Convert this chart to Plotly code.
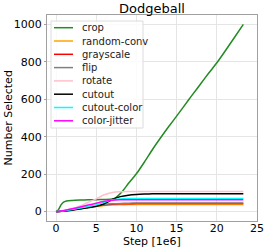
import plotly.graph_objects as go

# ---------------- data ----------------
names = ["crop", "random-conv", "grayscale", "flip", "rotate", "cutout", "cutout-color", "color-jitter"]
colors = ["#228B22", "#FFA500", "#FF0000", "#808080", "#FFC0CB", "#000000", "#00FFFF", "#FF00FF"]

crop_x = [0, 0.3, 0.6, 0.9, 1.3, 2, 3, 4, 5, 6, 6.8, 7.3, 7.8, 8.4, 9, 10, 11, 12, 13.1, 14, 15, 16.55, 17, 18, 19, 20.1, 21, 22, 23.3]
crop_y = [0, 10, 35, 50, 57, 60, 62, 63, 64, 65, 66, 70, 88, 116, 150, 202, 265, 332, 400, 453, 510, 600, 626, 683, 740, 800, 855, 918, 1000]

steps = [0, 1, 2, 3, 4, 5, 6, 7, 8, 9, 10, 11, 12, 14, 16, 18, 20, 22, 23.3]
random_conv_y = [0, 4, 10, 16, 22, 28, 33, 36, 37, 37.5, 38, 38, 38, 38, 38, 38, 38, 38, 38]
grayscale_y = [0, 4, 10, 17, 24, 30, 36, 40, 42, 42.5, 43, 43, 43, 43, 43, 43, 43, 43, 43]
flip_y = [0, 4, 11, 18, 25, 32, 38, 42, 44, 45, 46, 46, 46, 46, 46, 46, 46, 46, 46]
rotate_y = [0, 5, 15, 30, 50, 68, 90, 102, 106, 107, 107, 107, 107, 107, 107, 107, 107, 107, 107]
cutout_y = [0, 3, 8, 14, 21, 29, 42, 65, 80, 88, 92, 94, 95, 96, 96, 96, 96, 96, 96]
cutout_color_y = [0, 5, 12, 20, 28, 36, 50, 63, 68, 70, 70, 70, 70, 70, 70, 70, 70, 70, 70]
color_jitter_y = [0, 6, 15, 25, 35, 45, 55, 61, 63, 64, 64, 64, 64, 64, 64, 64, 64, 64, 64]

series_x = [crop_x] + [steps] * 7
series_y = [crop_y, random_conv_y, grayscale_y, flip_y, rotate_y, cutout_y, cutout_color_y, color_jitter_y]

title = "Dodgeball"
x_label = "Step [1e6]"
y_label = "Number Selected"

# ---------------- figure ----------------
W, H = 266, 249
L, R, T, B = 47, 9, 15, 28
FONT = "DejaVu Sans"

fig = go.Figure()
for n, c, xs, ys in zip(names, colors, series_x, series_y):
    fig.add_trace(go.Scatter(x=xs, y=ys, mode="lines", name=n,
                             line=dict(color=c, width=1.5, shape="spline", smoothing=0.6),
                             showlegend=False))

pw, ph = W - L - R, H - T - B
def px2x(px):
    return (px - L) / pw
def px2y(py):
    return (H - B - py) / ph

# custom matplotlib-like legend
shapes = [dict(type="rect", xref="paper", yref="paper",
               x0=px2x(51), x1=px2x(143), y0=px2y(128), y1=px2y(21),
               fillcolor="rgba(255,255,255,0.85)", line=dict(color="#dcdcdc", width=1), layer="above")]
annotations = []
for i, (n, c) in enumerate(zip(names, colors)):
    yy = px2y(27.7 + i * 13.3)
    shapes.append(dict(type="line", xref="paper", yref="paper",
                       x0=px2x(54), x1=px2x(73), y0=yy, y1=yy,
                       line=dict(color=c, width=1.5), layer="above"))
    annotations.append(dict(text=n, xref="paper", yref="paper", x=px2x(80), y=yy,
                            xanchor="left", yanchor="middle", showarrow=False,
                            font=dict(family=FONT, size=10, color="#222")))

# axis titles as annotations (placed like matplotlib)
annotations.append(dict(text=x_label, xref="paper", yref="paper", x=0.5, y=px2y(241.5),
                        xanchor="center", yanchor="middle", showarrow=False,
                        font=dict(family=FONT, size=11, color="black")))
annotations.append(dict(text=y_label, xref="paper", yref="paper", x=px2x(7.5), y=0.5,
                        xanchor="center", yanchor="middle", textangle=-90, showarrow=False,
                        font=dict(family=FONT, size=11, color="black")))

fig.update_layout(
    width=W, height=H,
    margin=dict(l=L, r=R, t=T, b=B, autoexpand=False),
    paper_bgcolor="white", plot_bgcolor="white",
    font=dict(family=FONT, size=11, color="black"),
    title=dict(text=title, x=(L + pw / 2) / W, xanchor="center", xref="container",
               y=1 - 8 / H, yanchor="middle", yref="container",
               font=dict(family=FONT, size=13, color="black")),
    shapes=shapes, annotations=annotations, showlegend=False,
)
fig.update_xaxes(range=[-1.12, 25.0], tick0=0, dtick=5, showgrid=True, gridcolor="#e5e5e5",
                 zeroline=False, showline=True, linecolor="#a0a0a0", mirror=True,
                 ticks="", ticklabelstandoff=-3,
                 tickfont=dict(family=FONT, size=11, color="black"))
fig.update_yaxes(range=[-50, 1050], tick0=0, dtick=200, showgrid=True, gridcolor="#e5e5e5",
                 zeroline=False, showline=True, linecolor="#a0a0a0", mirror=True,
                 ticks="outside", ticklen=2, tickcolor="#a0a0a0",
                 tickfont=dict(family=FONT, size=11, color="black"))

fig.write_html("out.html", config={"displayModeBar": False},
               post_script="document.body.style.margin='0';document.body.style.overflow='hidden';")
